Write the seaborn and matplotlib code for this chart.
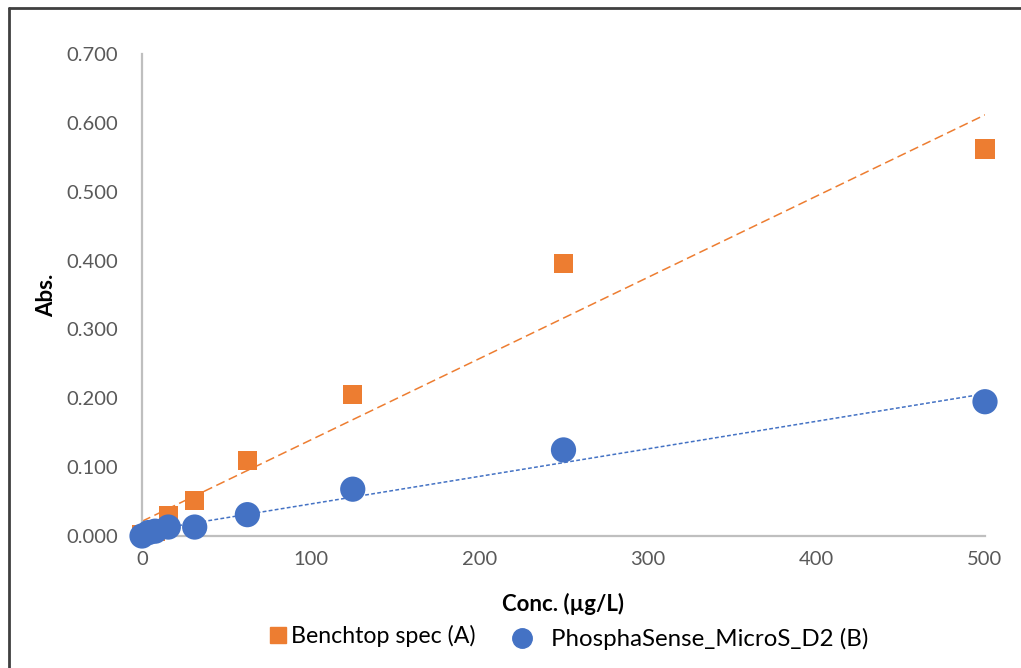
import numpy as np
import pandas as pd
import matplotlib
matplotlib.use("Agg")
import matplotlib.pyplot as plt
import seaborn as sns
from matplotlib.lines import Line2D

conc = [0, 3.9, 7.8, 15.6, 31.25, 62.5, 125, 250, 500]
abs_a = [0.002, 0.004, 0.007, 0.029, 0.052, 0.110, 0.206, 0.396, 0.562]
abs_b = [0.000, 0.005, 0.007, 0.013, 0.013, 0.031, 0.068, 0.125, 0.195]
xticks = [0, 100, 200, 300, 400, 500]
yticks = [0.0, 0.1, 0.2, 0.3, 0.4, 0.5, 0.6, 0.7]
label_a = "Benchtop spec (A)"
label_b = "PhosphaSense_MicroS_D2 (B)"

sns.set_style("white")
plt.rcParams['font.family'] = ['Lato', 'DejaVu Sans']

ORANGE = "#ED7D31"
BLUE = "#4472C4"
GREY = "#595959"

df_a = pd.DataFrame({"x": conc, "y": abs_a})
df_b = pd.DataFrame({"x": conc, "y": abs_b})

fig = plt.figure(figsize=(10.21, 6.68), dpi=100)
ax = fig.add_axes([142/1021, 1-536/668, (985-142)/1021, (536-54)/668])

sns.regplot(data=df_a, x="x", y="y", ax=ax, scatter=False, ci=None,
            line_kws=dict(color=ORANGE, lw=1.1, ls=(0, (6, 3))))
sns.regplot(data=df_b, x="x", y="y", ax=ax, scatter=False, ci=None,
            line_kws=dict(color=BLUE, lw=1.1, ls=(0, (2.5, 1.5))))
sns.scatterplot(data=df_a, x="x", y="y", ax=ax, marker="s", s=190, color=ORANGE,
                edgecolor="none", clip_on=False, zorder=3)
sns.scatterplot(data=df_b, x="x", y="y", ax=ax, marker="o", s=330, color=BLUE,
                edgecolor="none", clip_on=False, zorder=4)
for c in ax.collections:
    c.set_clip_on(False)

ax.set_xlim(0, 500)
ax.set_ylim(0, 0.7)
ax.set_xticks(xticks)
ax.set_xticklabels([str(v) for v in xticks])
ax.set_yticks(yticks)
ax.set_yticklabels([f"{v:.3f}" for v in yticks])
ax.tick_params(axis="both", length=0, labelsize=14.5, labelcolor=GREY)
ax.tick_params(axis="x", pad=11)
ax.tick_params(axis="y", pad=17)
for side in ["top", "right"]:
    ax.spines[side].set_visible(False)
for side in ["left", "bottom"]:
    ax.spines[side].set_color("#BFBFBF")
    ax.spines[side].set_linewidth(1.6)
ax.set_xlabel("")
ax.set_ylabel("")

fig.text(563/1021, 1-604/668, "Conc. (µg/L)", ha="center", va="center",
         fontsize=16, fontweight="bold", color="black")
fig.text(47/1021, 1-295/668, "Abs.", ha="center", va="center", rotation=90,
         fontsize=16, fontweight="bold", color="black")

h_a = Line2D([], [], ls="none", marker="s", color=ORANGE, markersize=12, label=label_a)
h_b = Line2D([], [], ls="none", marker="o", color=BLUE, markersize=14, label=label_b)
fig.legend(handles=[h_a], loc="center left", bbox_to_anchor=(269/1021, 1-636/668),
           frameon=False, fontsize=16.7, handlelength=0.77, handletextpad=0.17,
           borderpad=0, borderaxespad=0, labelcolor="black")
fig.legend(handles=[h_b], loc="center left", bbox_to_anchor=(513/1021, 1-639/668),
           frameon=False, fontsize=17.3, handlelength=0.74, handletextpad=0.84,
           borderpad=0, borderaxespad=0, labelcolor="black")

fig.add_artist(Line2D([9/1021, 9/1021], [0, 1-8/668], transform=fig.transFigure,
                      color="#404040", lw=2))
fig.add_artist(Line2D([9/1021, 1], [1-8/668, 1-8/668], transform=fig.transFigure,
                      color="#404040", lw=2))

fig.savefig("out.png", dpi=100, facecolor="white")
